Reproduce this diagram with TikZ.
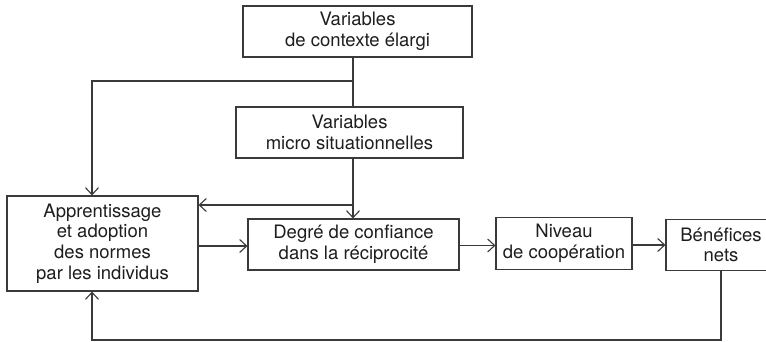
\documentclass[tikz,border=0pt]{standalone}
\usepackage{fontspec}
\setmainfont{TeX Gyre Heros}
\usetikzlibrary{arrows.meta}
\definecolor{trait}{HTML}{3A3A3A}
\definecolor{texte}{HTML}{1E1E1E}
\begin{document}
\begin{tikzpicture}[x=1pt,y=-1pt,line width=1.1pt,draw=trait,
   ->/.tip={Straight Barb[length=7pt,width=13pt,line width=1.1pt]},
   boite/.style={draw=trait,fill=white,align=center,inner sep=0pt,text=texte,
      font=\fontsize{18.5}{20.7}\selectfont}]
   \useasboundingbox (0,0) rectangle (766,342);

   \node[boite,minimum width=229pt,minimum height=51pt] (a) at (357.5,31.5) {Variables\\de contexte élargi};
   \node[boite,minimum width=227pt,minimum height=51pt] (b) at (349.5,132.5) {Variables\\micro situationnelles};
   \node[boite,minimum width=191pt,minimum height=95pt] (c) at (102.5,243.5) {Apprentissage\\et adoption\\des normes\\par les individus};
   \node[boite,minimum width=211pt,minimum height=51pt] (d) at (353.5,244.5) {Degré de confiance\\dans la réciprocité};
   \node[boite,minimum width=136pt,minimum height=52pt] (e) at (564,243.5) {Niveau\\de coopération};
   \node[boite,minimum width=110pt,minimum height=51pt] (f) at (721,245) {Bénéfices\\nets};

   \coordinate (j1) at (353,81);
   \coordinate (j2) at (92,81);
   \coordinate (j3) at (353,205);
   \coordinate (j4) at (92,340);

   \draw[trait] (a.south -| j1) -- (b.north -| j1);
   \draw[trait,->] (j1) -- (j2) -- (j2 |- c.north);
   \draw[trait,->] (b.south -| j1) -- (d.north -| j1);
   \draw[trait,->] (j3) -- (j3 -| c.east);

   \draw[trait,->] (c.east |- 0,246) -- (d.west |- 0,246);
   \draw[trait,->] (d.east |- 0,245.5) -- (e.west |- 0,245.5);
   \draw[trait,->] (e.east |- 0,245) -- (f.west |- 0,245);

   \draw[trait,->] (f.south) |- (j4) -- (j4 |- c.south);
\end{tikzpicture}
\end{document}
